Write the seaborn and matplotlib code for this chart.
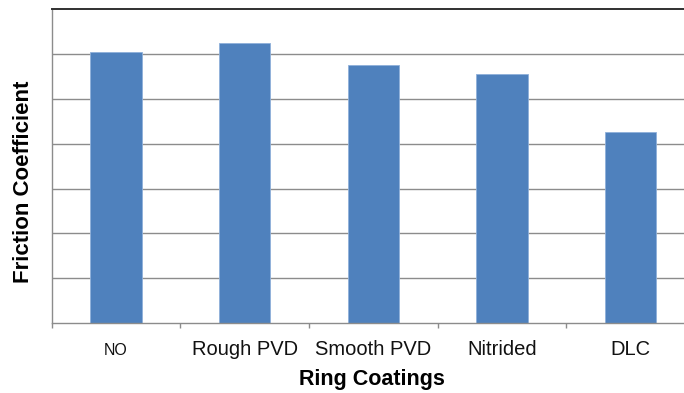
import matplotlib
matplotlib.use("Agg")
import matplotlib.pyplot as plt
import seaborn as sns
import pandas as pd
import numpy as np

# Friction coefficient per ring coating
coatings = ["NO", "Rough PVD", "Smooth PVD", "Nitrided", "DLC"]
friction = [6.04, 6.25, 5.75, 5.55, 4.25]

sns.set_theme(style="white")
plt.rcParams["font.family"] = ["Liberation Sans", "DejaVu Sans"]

df = pd.DataFrame({"coating": coatings, "friction": friction})

fig = plt.figure(figsize=(6.84, 3.93), dpi=100)
ax = fig.add_axes([0.0756, 0.1774, 0.9401, 0.7997])

sns.barplot(data=df, x="coating", y="friction", color="#4F81BD", saturation=1,
            width=0.4, edgecolor="#8FB0DA", linewidth=0.6, ax=ax)

grid_col = "#8C8C8C"
ax.set_ylim(0, 7)
ax.set_xlim(-0.5, len(coatings) - 0.5)
ax.set_yticks(np.arange(1, 7))
ax.yaxis.grid(True, color=grid_col, linewidth=1.0)
ax.set_axisbelow(True)
ax.tick_params(axis="y", length=0, labelleft=False)

# category labels at bar centres, tick marks at category boundaries
ax.set_xticks(np.arange(len(coatings)))
ax.set_xticklabels(coatings)
ax.set_xticks(np.arange(len(coatings)) - 0.5, minor=True)
ax.tick_params(axis="x", which="major", length=0, pad=22.8, labelsize=14.5,
               labelcolor="#111111")
ax.tick_params(axis="x", which="minor", bottom=True, length=3.6, width=1.0,
               color=grid_col)
for lbl in ax.get_xticklabels():
    lbl.set_va("baseline")
ax.get_xticklabels()[0].set_fontsize(11.5)

for side in ("left", "bottom"):
    ax.spines[side].set_color(grid_col)
    ax.spines[side].set_linewidth(1.0)
ax.spines["right"].set_visible(False)
ax.spines["top"].set_color("#303030")
ax.spines["top"].set_linewidth(1.4)

ax.set_xlabel("Ring Coatings", fontsize=15.5, fontweight="bold", color="black")
ax.xaxis.label.set(ha="center", va="baseline")
ax.xaxis.set_label_coords(0.498, -0.1963)

ax.set_ylabel("Friction Coefficient", fontsize=16, fontweight="bold", color="black")
ax.yaxis.label.set(ha="center", va="center", rotation_mode="default")
ax.yaxis.set_label_coords(-0.0431, 0.4496)

fig.savefig("out.png", dpi=100)
